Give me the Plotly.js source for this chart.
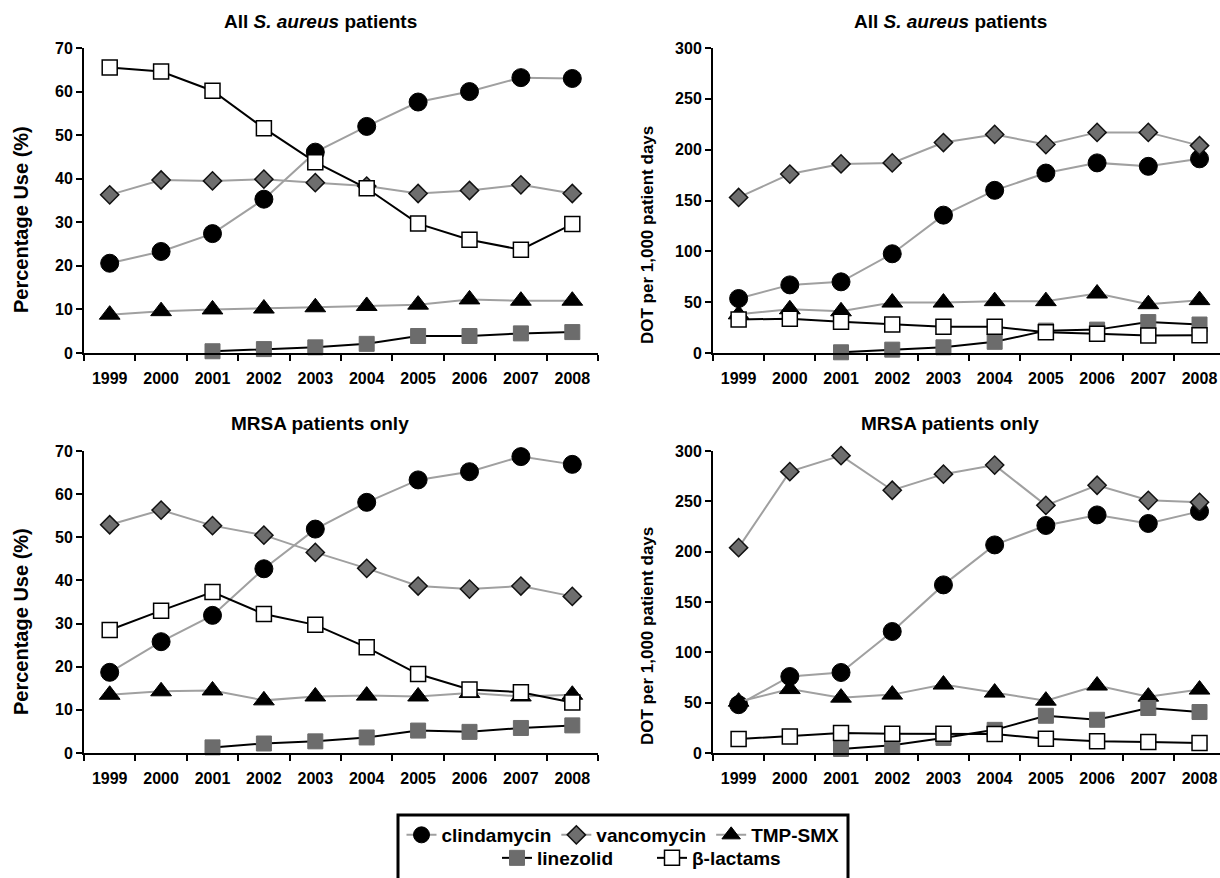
<!DOCTYPE html>
<html>
<head>
<meta charset="utf-8">
<script src="https://cdn.plot.ly/plotly-3.0.1.min.js"></script>
<style>
html,body{margin:0;padding:0;background:#fff;}
#chart{width:1220px;height:878px;}
</style>
</head>
<body>
<div id="chart"></div>
<script>
// ---- data ----
const years = ['1999','2000','2001','2002','2003','2004','2005','2006','2007','2008'];
const seriesNames = ['clindamycin','vancomycin','TMP-SMX','linezolid','β-lactams'];

// Panel A: All S. aureus patients, percentage use (%)
const pctAll_clindamycin = [20.6, 23.3, 27.4, 35.3, 46.1, 52.0, 57.6, 60.0, 63.2, 63.0];
const pctAll_vancomycin  = [36.3, 39.7, 39.5, 39.9, 39.1, 38.3, 36.6, 37.3, 38.6, 36.6];
const pctAll_tmpsmx      = [8.8, 9.6, 10.0, 10.2, 10.5, 10.8, 11.1, 12.3, 12.0, 12.0];
const pctAll_linezolid   = [null, null, 0.4, 0.9, 1.3, 2.1, 3.9, 3.9, 4.5, 4.8];
const pctAll_betalactams = [65.5, 64.6, 60.2, 51.6, 43.8, 37.8, 29.7, 26.0, 23.7, 29.6];

// Panel B: All S. aureus patients, DOT per 1,000 patient days
const dotAll_clindamycin = [53.6, 67, 70, 97.6, 135.6, 160, 177, 187, 183.6, 191];
const dotAll_vancomycin  = [153, 176, 186, 187, 207, 215, 205, 217, 217, 204];
const dotAll_tmpsmx      = [38, 43, 41, 49.6, 49.6, 51, 51, 58.5, 48, 52];
const dotAll_linezolid   = [null, null, 0.7, 3.3, 5.6, 11, 22, 23, 30.4, 28];
const dotAll_betalactams = [33, 33.7, 30.8, 28, 25.8, 25.8, 20.5, 18.9, 17.2, 17.5];

// Panel C: MRSA patients only, percentage use (%)
const pctMrsa_clindamycin = [18.7, 25.8, 31.9, 42.7, 51.9, 58.1, 63.3, 65.2, 68.7, 66.9];
const pctMrsa_vancomycin  = [52.9, 56.3, 52.7, 50.5, 46.5, 42.8, 38.7, 38.0, 38.7, 36.3];
const pctMrsa_tmpsmx      = [13.5, 14.3, 14.5, 12.2, 13.1, 13.3, 13.1, 13.9, 13.1, 13.5];
const pctMrsa_linezolid   = [null, null, 1.3, 2.2, 2.7, 3.6, 5.2, 4.9, 5.8, 6.4];
const pctMrsa_betalactams = [28.5, 33.0, 37.3, 32.2, 29.7, 24.5, 18.3, 14.7, 14.1, 11.7];

// Panel D: MRSA patients only, DOT per 1,000 patient days
const dotMrsa_clindamycin = [48, 76, 80, 120.7, 167, 206.7, 226, 236.5, 228, 240];
const dotMrsa_vancomycin  = [204, 279.5, 295.4, 261, 277, 286, 246, 266, 251, 249];
const dotMrsa_tmpsmx      = [51, 63.5, 55, 58, 68, 60, 52, 67, 56, 63];
const dotMrsa_linezolid   = [null, null, 4, 7.6, 15, 23, 37, 33, 44.7, 40.7];
const dotMrsa_betalactams = [13.9, 16.5, 19.8, 19.2, 19.2, 18.9, 14.2, 11.6, 10.9, 9.9];

const panelTitles = ['All <i>S. aureus</i> patients','All <i>S. aureus</i> patients','MRSA patients only','MRSA patients only'];
const yTitles = ['Percentage Use (%)','DOT per 1,000 patient days','Percentage Use (%)','DOT per 1,000 patient days'];

// ---- styles ----
const FONT = 'Liberation Sans, Arial, sans-serif';
const GRAYLINE = '#a0a0a0';
const styles = [
  {line:{color:GRAYLINE,width:2}, marker:{symbol:'circle',size:18,color:'#000',line:{color:'#000',width:1}}},
  {line:{color:GRAYLINE,width:2}, marker:{symbol:'diamond',size:14,color:'#6e6e6e',line:{color:'#111',width:1.5}}},
  {line:{color:GRAYLINE,width:2}, marker:{symbol:'triangle-up',size:18,color:'#000',line:{color:'#000',width:1}}},
  {line:{color:'#000',width:2}, marker:{symbol:'square',size:15,color:'#6c6c6c',line:{color:'#6c6c6c',width:1}}},
  {line:{color:'#000',width:2}, marker:{symbol:'square',size:15,color:'#fff',line:{color:'#000',width:1.5}}}
];

const panels = [
  [pctAll_clindamycin, pctAll_vancomycin, pctAll_tmpsmx, pctAll_linezolid, pctAll_betalactams],
  [dotAll_clindamycin, dotAll_vancomycin, dotAll_tmpsmx, dotAll_linezolid, dotAll_betalactams],
  [pctMrsa_clindamycin, pctMrsa_vancomycin, pctMrsa_tmpsmx, pctMrsa_linezolid, pctMrsa_betalactams],
  [dotMrsa_clindamycin, dotMrsa_vancomycin, dotMrsa_tmpsmx, dotMrsa_linezolid, dotMrsa_betalactams]
];

const traces = [];
panels.forEach((series, p) => {
  const sfx = p === 0 ? '' : String(p + 1);
  series.forEach((vals, s) => {
    traces.push({
      type: 'scatter', mode: 'lines+markers',
      x: years, y: vals, name: seriesNames[s],
      xaxis: 'x' + sfx, yaxis: 'y' + sfx,
      line: styles[s].line, marker: styles[s].marker,
      cliponaxis: false, connectgaps: false,
      showlegend: p === 0,
      legend: s < 3 ? 'legend' : 'legend2',
      hoverinfo: 'x+y+name'
    });
  });
});

// ---- layout ----
const W = 1220, H = 878;
const xDomL = [84 / W, 598 / W], xDomR = [713 / W, 1];
const yDomT = [1 - 353 / H, 1 - 48 / H], yDomB = [1 - 753 / H, 1 - 451 / H];
const tickFont = {family: FONT, size: 16, color: '#000', weight: 'bold'};

function xAx(dom, anchor, rangeEnd) {
  return {domain: dom, anchor: anchor, type: 'category', range: [-0.5, rangeEnd],
    tickson: 'boundaries', ticks: 'outside', ticklen: 6, tickwidth: 2, tickcolor: '#000',
    ticklabelstandoff: 10,
    showline: true, linewidth: 2, linecolor: '#000', showgrid: false, zeroline: false,
    tickfont: tickFont, fixedrange: true};
}
function yAx(dom, anchor, max, dt) {
  return {domain: dom, anchor: anchor, range: [0, max], dtick: dt,
    ticks: 'outside', ticklen: 6, tickwidth: 2, tickcolor: '#000',
    showline: true, linewidth: 2, linecolor: '#000', showgrid: false, zeroline: false,
    tickfont: tickFont, fixedrange: true};
}

const titleXs = [320 / W, 950 / W, 320 / W, 950 / W];
const titleYs = [1 - 22 / H, 1 - 22 / H, 1 - 423 / H, 1 - 423 / H];
const yTitleXs = [21 / W, 647 / W, 21 / W, 647 / W];
const yTitleYs = [1 - 220 / H, 1 - 235 / H, 1 - 622 / H, 1 - 636 / H];
const yTitleSizes = [20, 17, 20, 17];

const annotations = [];
for (let i = 0; i < 4; i++) {
  annotations.push({text: panelTitles[i], xref: 'paper', yref: 'paper', x: titleXs[i], y: titleYs[i],
    xanchor: 'center', yanchor: 'middle', showarrow: false,
    font: {family: FONT, size: 19, color: '#000', weight: 'bold'}});
  annotations.push({text: yTitles[i], xref: 'paper', yref: 'paper', x: yTitleXs[i], y: yTitleYs[i],
    xanchor: 'center', yanchor: 'middle', showarrow: false, textangle: -90,
    font: {family: FONT, size: yTitleSizes[i], color: '#000', weight: 'bold'}});
}

const legendFont = {family: FONT, size: 19, color: '#000', weight: 'bold'};
const layout = {
  width: W, height: H,
  margin: {l: 0, r: 0, t: 0, b: 0},
  paper_bgcolor: '#fff', plot_bgcolor: '#fff',
  font: {family: FONT, color: '#000'},
  xaxis: xAx(xDomL, 'y', 9.5), yaxis: yAx(yDomT, 'x', 70, 10),
  xaxis2: xAx(xDomR, 'y2', 9.4), yaxis2: yAx(yDomT, 'x2', 300, 50),
  xaxis3: xAx(xDomL, 'y3', 9.5), yaxis3: yAx(yDomB, 'x3', 70, 10),
  xaxis4: xAx(xDomR, 'y4', 9.4), yaxis4: yAx(yDomB, 'x4', 300, 50),
  annotations: annotations,
  legend: {orientation: 'h', x: 623 / W, xanchor: 'center', y: 1 - 835 / H, yanchor: 'middle',
    font: legendFont, bgcolor: 'rgba(0,0,0,0)', itemwidth: 30, tracegroupgap: 0, borderwidth: 0},
  legend2: {orientation: 'h', x: 652 / W, xanchor: 'center', y: 1 - 858 / H, yanchor: 'middle',
    font: legendFont, bgcolor: 'rgba(0,0,0,0)', itemwidth: 30, borderwidth: 0,
    entrywidth: 110, entrywidthmode: 'pixels'},
  shapes: [{type: 'rect', xref: 'paper', yref: 'paper', x0: 398 / W, x1: 848 / W, y0: -0.05, y1: 1 - 815 / H,
    line: {color: '#000', width: 3}, fillcolor: 'rgba(0,0,0,0)', layer: 'below'}]
};

Plotly.newPlot('chart', traces, layout, {displayModeBar: false, staticPlot: true});
</script>
</body>
</html>
